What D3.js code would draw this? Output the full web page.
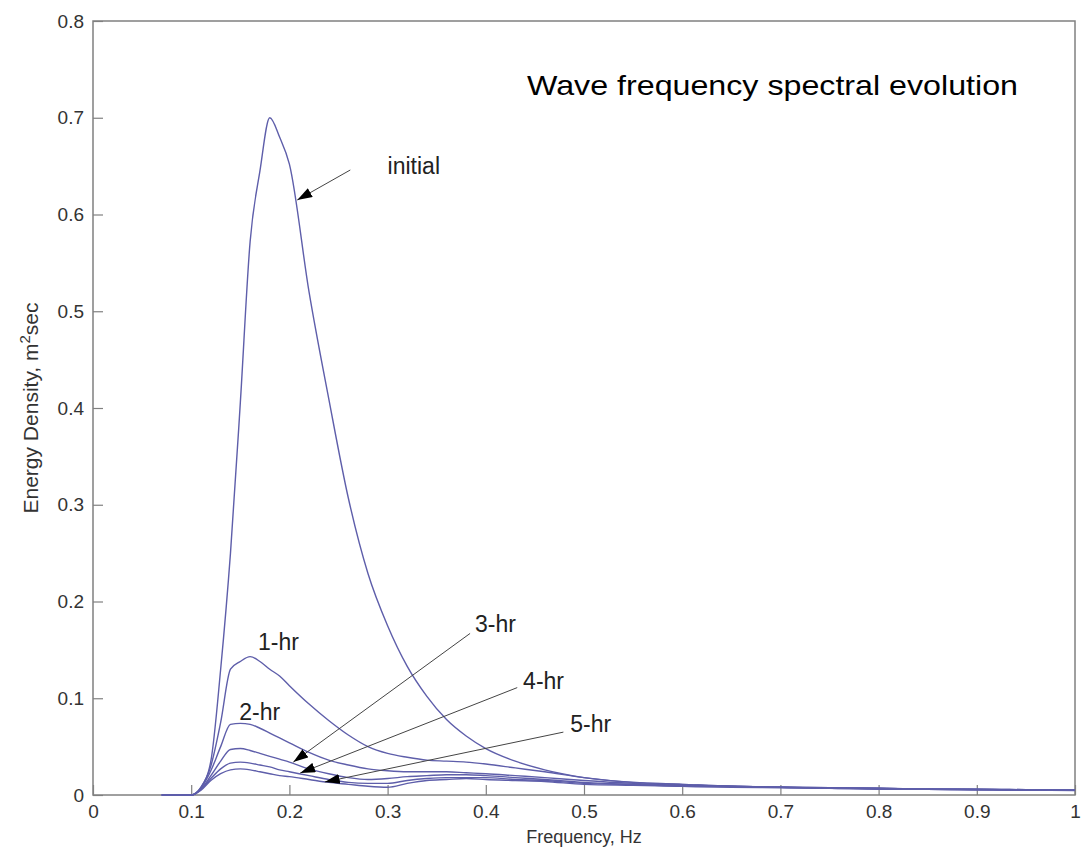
<!DOCTYPE html>
<html>
<head>
<meta charset="utf-8">
<script src="https://cdn.jsdelivr.net/npm/d3@7"></script>
<style>
  body { margin: 0; background: #fff; }
  text { font-family: "Liberation Sans", Arial, sans-serif; }
</style>
</head>
<body>
<svg id="chart" width="1083" height="856"></svg>
<script>
// frequencies shared by all spectra (Hz)
const freq = [0.07, 0.08, 0.09, 0.10, 0.11, 0.12, 0.13, 0.14, 0.15, 0.16, 0.17, 0.18, 0.19, 0.20,
  0.22, 0.24, 0.26, 0.28, 0.30, 0.32, 0.34, 0.36, 0.38, 0.40, 0.43, 0.46, 0.50,
  0.55, 0.60, 0.65, 0.70, 0.75, 0.80, 0.85, 0.90, 0.95, 1.00];

// energy density, m^2 sec
const initial = [0, 0, 0, 0, 0.008, 0.035, 0.13, 0.25, 0.405, 0.572, 0.645, 0.70, 0.68, 0.652,
  0.52, 0.41, 0.307, 0.229, 0.175, 0.133, 0.102, 0.078, 0.061, 0.048, 0.035, 0.026, 0.018,
  0.013, 0.011, 0.009, 0.008, 0.007, 0.0065, 0.006, 0.0055, 0.005, 0.005];
const hr1 = [0, 0, 0, 0, 0.008, 0.03, 0.075, 0.13, 0.138, 0.143, 0.138, 0.13, 0.123, 0.113,
  0.094, 0.077, 0.062, 0.05, 0.043, 0.039, 0.036, 0.035, 0.034, 0.032, 0.028, 0.024, 0.018,
  0.013, 0.011, 0.009, 0.008, 0.0075, 0.007, 0.006, 0.006, 0.0055, 0.005];
const hr2 = [0, 0, 0, 0, 0.007, 0.025, 0.05, 0.073, 0.074, 0.073, 0.069, 0.064, 0.059, 0.054,
  0.044, 0.036, 0.031, 0.027, 0.025, 0.024, 0.024, 0.024, 0.023, 0.022, 0.02, 0.018, 0.015,
  0.012, 0.010, 0.009, 0.008, 0.0075, 0.007, 0.006, 0.006, 0.0055, 0.005];
const hr3 = [0, 0, 0, 0, 0.006, 0.02, 0.035, 0.047, 0.048, 0.046, 0.043, 0.04, 0.037, 0.034,
  0.027, 0.022, 0.018, 0.016, 0.017, 0.019, 0.02, 0.021, 0.021, 0.02, 0.018, 0.016, 0.013,
  0.011, 0.010, 0.009, 0.008, 0.007, 0.007, 0.006, 0.006, 0.005, 0.005];
const hr4 = [0, 0, 0, 0, 0.006, 0.017, 0.027, 0.033, 0.034, 0.033, 0.031, 0.029, 0.026, 0.024,
  0.02, 0.016, 0.013, 0.012, 0.012, 0.015, 0.017, 0.018, 0.018, 0.018, 0.016, 0.015, 0.012,
  0.011, 0.009, 0.0085, 0.008, 0.007, 0.0065, 0.006, 0.0055, 0.005, 0.005];
const hr5 = [0, 0, 0, 0, 0.005, 0.015, 0.022, 0.026, 0.027, 0.026, 0.024, 0.022, 0.02, 0.019,
  0.016, 0.013, 0.011, 0.009, 0.008, 0.012, 0.015, 0.016, 0.017, 0.016, 0.015, 0.014, 0.011,
  0.010, 0.009, 0.008, 0.0075, 0.007, 0.006, 0.006, 0.0055, 0.005, 0.0045];

const seriesList = [initial, hr1, hr2, hr3, hr4, hr5];

const xTicks = [0, 0.1, 0.2, 0.3, 0.4, 0.5, 0.6, 0.7, 0.8, 0.9, 1];
const yTicks = [0, 0.1, 0.2, 0.3, 0.4, 0.5, 0.6, 0.7, 0.8];

// labels: text anchor point, and arrow from -> to (data coords); no arrow for 1-hr / 2-hr
const annotations = [
  { text: 'initial', at: [0.300, 0.642], from: [0.262, 0.646], to: [0.208, 0.615] },
  { text: '1-hr', at: [0.168, 0.1495] },
  { text: '2-hr', at: [0.149, 0.0773] },
  { text: '3-hr', at: [0.389, 0.168], from: [0.384, 0.167], to: [0.204, 0.034] },
  { text: '4-hr', at: [0.438, 0.110], from: [0.432, 0.111], to: [0.211, 0.0227] },
  { text: '5-hr', at: [0.486, 0.065], from: [0.479, 0.065], to: [0.236, 0.0134] }
];

const svg = d3.select('#chart');
const mLeft = 93, mRight = 1075, mTop = 21, mBottom = 795;

const x = d3.scaleLinear().domain([0, 1]).range([mLeft, mRight]);
const y = d3.scaleLinear().domain([0, 0.8]).range([mBottom, mTop]);

const axisColor = '#808080';

// frame
svg.append('rect')
  .attr('x', mLeft).attr('y', mTop)
  .attr('width', mRight - mLeft).attr('height', mBottom - mTop)
  .attr('fill', 'none').attr('stroke', axisColor).attr('stroke-width', 1.5);

// x axis
const gx = svg.append('g')
  .attr('transform', `translate(0,${mBottom})`)
  .call(d3.axisBottom(x).tickValues(xTicks).tickSizeInner(-10).tickSizeOuter(0)
    .tickPadding(10).tickFormat(d3.format('')));
gx.select('.domain').remove();
gx.selectAll('.tick line').attr('stroke', axisColor).attr('stroke-width', 1.2);
gx.selectAll('.tick text').attr('font-size', 19).attr('fill', '#333')
  .attr('font-family', '"Liberation Sans", Arial, sans-serif');

// y axis
const gy = svg.append('g')
  .attr('transform', `translate(${mLeft},0)`)
  .call(d3.axisLeft(y).tickValues(yTicks).tickSizeInner(-10).tickSizeOuter(0)
    .tickPadding(9).tickFormat(d3.format('')));
gy.select('.domain').remove();
gy.selectAll('.tick line').attr('stroke', axisColor).attr('stroke-width', 1.2);
gy.selectAll('.tick text').attr('font-size', 19).attr('fill', '#333')
  .attr('font-family', '"Liberation Sans", Arial, sans-serif');

// axis labels
svg.append('text')
  .attr('x', (mLeft + mRight) / 2).attr('y', 843)
  .attr('text-anchor', 'middle').attr('font-size', 18).attr('fill', '#333')
  .text('Frequency, Hz');

const ylab = svg.append('text')
  .attr('transform', `translate(38,${(mTop + mBottom) / 2}) rotate(-90)`)
  .attr('text-anchor', 'middle').attr('font-size', 21).attr('fill', '#333');
ylab.append('tspan').text('Energy Density, m');
ylab.append('tspan').attr('dy', -8).attr('font-size', 15).text('2');
ylab.append('tspan').attr('dy', 8).text('sec');

// spectra
const line = d3.line()
  .x((d, i) => x(freq[i]))
  .y(d => y(d))
  .curve(d3.curveMonotoneX);

svg.append('g').selectAll('path')
  .data(seriesList)
  .join('path')
  .attr('d', line)
  .attr('fill', 'none')
  .attr('stroke', '#5e5eaa')
  .attr('stroke-width', 1.4)
  .attr('stroke-linejoin', 'round');

// arrowheads
svg.append('defs').append('marker')
  .attr('id', 'head')
  .attr('viewBox', '0 0 12 8')
  .attr('refX', 12).attr('refY', 4)
  .attr('markerWidth', 15).attr('markerHeight', 10)
  .attr('markerUnits', 'userSpaceOnUse')
  .attr('orient', 'auto')
  .append('path').attr('d', 'M0,0 L12,4 L0,8 Z').attr('fill', '#000');

const ann = svg.append('g');
ann.selectAll('line')
  .data(annotations.filter(a => a.from))
  .join('line')
  .attr('x1', d => x(d.from[0])).attr('y1', d => y(d.from[1]))
  .attr('x2', d => x(d.to[0])).attr('y2', d => y(d.to[1]))
  .attr('stroke', '#444').attr('stroke-width', 1)
  .attr('marker-end', 'url(#head)');

ann.selectAll('text')
  .data(annotations)
  .join('text')
  .attr('x', d => x(d.at[0])).attr('y', d => y(d.at[1]))
  .attr('font-size', 23).attr('fill', '#222')
  .text(d => d.text);

// title
svg.append('text')
  .attr('x', 527).attr('y', 95)
  .attr('font-size', 28).attr('fill', '#000')
  .attr('textLength', 491).attr('lengthAdjust', 'spacingAndGlyphs')
  .text('Wave frequency spectral evolution');
</script>
</body>
</html>
